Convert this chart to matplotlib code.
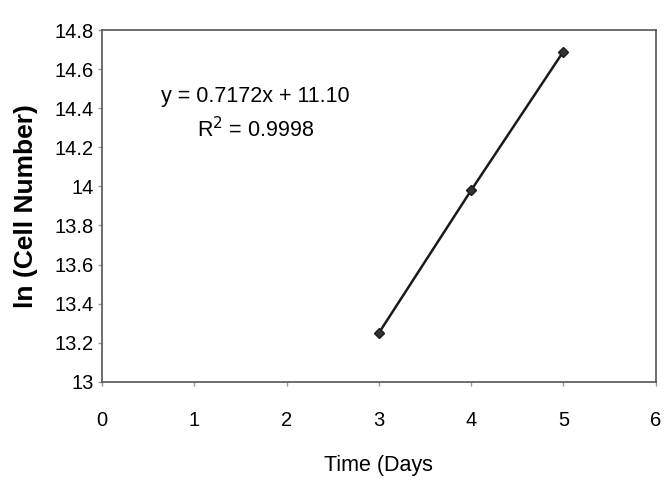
# ln(cell number) vs time with linear fit
import matplotlib.pyplot as plt

days = [3, 4, 5]
ln_cells = [13.25, 13.98, 14.69]
x_ticks = [0, 1, 2, 3, 4, 5, 6]
y_ticks = [13, 13.2, 13.4, 13.6, 13.8, 14, 14.2, 14.4, 14.6, 14.8]
y_tick_labels = ['13', '13.2', '13.4', '13.6', '13.8', '14', '14.2', '14.4', '14.6', '14.8']

plt.rcParams['font.family'] = ['Liberation Sans', 'DejaVu Sans']

fig = plt.figure(figsize=(6.67, 4.84), dpi=100)
ax = fig.add_axes([0.153, 0.211, 0.830, 0.727])

ax.plot(days, ln_cells, color='#1a1a1a', linewidth=1.8,
        marker='D', markersize=5, markerfacecolor='#333333', markeredgecolor='#1a1a1a')

ax.set_xlim(0, 6)
ax.set_ylim(13, 14.8)
ax.set_xticks(x_ticks)
ax.set_yticks(y_ticks)
ax.set_yticklabels(y_tick_labels)
ax.tick_params(axis='both', labelsize=14.5, length=3, color='#999999', width=1)
ax.tick_params(axis='x', pad=18)
ax.tick_params(axis='y', pad=3)
for s in ax.spines.values():
    s.set_color('#555555')
    s.set_linewidth(1.2)

ax.set_ylabel('ln (Cell Number)', fontsize=19, fontweight='bold', labelpad=12)
ax.set_xlabel('Time (Days', fontsize=15.5, labelpad=18)

ax.text(1.66, 14.46, 'y = 0.7172x + 11.10', fontsize=15.5, ha='center', va='center')
ax.text(1.66, 14.29, 'R$^2$ = 0.9998', fontsize=15.5, ha='center', va='center')

fig.savefig('out.png', dpi=100)
